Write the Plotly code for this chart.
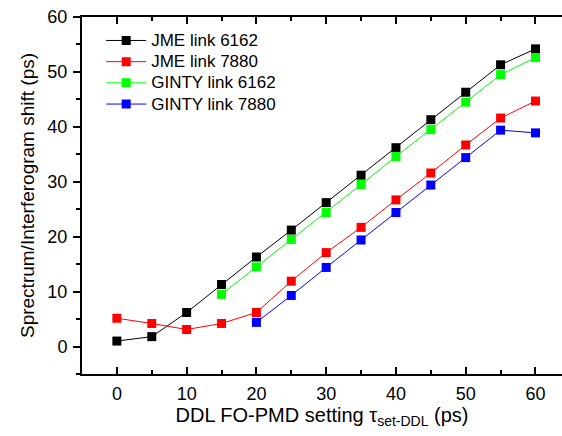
import plotly.graph_objects as go

# DDL FO-PMD setting (ps)
tau_all = [0, 5, 10, 15, 20, 25, 30, 35, 40, 45, 50, 55, 60]
tau_ginty_6162 = [15, 20, 25, 30, 35, 40, 45, 50, 55, 60]
tau_ginty_7880 = [20, 25, 30, 35, 40, 45, 50, 55, 60]

# Measured spectrum/interferogram shift (ps)
jme_6162 = [1.0, 1.8, 6.2, 11.3, 16.3, 21.2, 26.2, 31.2, 36.2, 41.3, 46.3, 51.3, 54.2]
jme_7880 = [5.15, 4.2, 3.1, 4.2, 6.2, 11.9, 17.1, 21.7, 26.7, 31.6, 36.7, 41.6, 44.7]
ginty_6162 = [9.5, 14.5, 19.5, 24.4, 29.5, 34.6, 39.5, 44.5, 49.5, 52.6]
ginty_7880 = [4.4, 9.3, 14.4, 19.4, 24.4, 29.4, 34.4, 39.4, 38.9]

series = [
    ("JME link 6162", tau_all, jme_6162, "#000000"),
    ("JME link 7880", tau_all, jme_7880, "#ff0000"),
    ("GINTY link 6162", tau_ginty_6162, ginty_6162, "#00ff00"),
    ("GINTY link 7880", tau_ginty_7880, ginty_7880, "#0000ff"),
]

FONT = "Arial, 'Liberation Sans', sans-serif"

fig = go.Figure()
for name, x, y, color in series:
    fig.add_trace(go.Scatter(
        x=x, y=y, mode="lines+markers",
        name=f'<span style="font-size:17px">{name}</span>',
        line=dict(color=color, width=1),
        marker=dict(symbol="square", size=9, color=color, line=dict(width=0)),
    ))

axis_common = dict(
    showgrid=False, zeroline=False, showline=True, linecolor="black",
    linewidth=2, ticklen=7, tickwidth=1.5, tickcolor="black",
    tickfont=dict(family=FONT, size=18, color="black"),
)

# x axis: ticks point into the plot, repeated on the top frame line
fig.update_xaxes(
    range=[-5, 63.8], tickvals=[0, 10, 20, 30, 40, 50, 60],
    ticks="inside", mirror="ticks",
    minor=dict(ticks="inside", ticklen=4, dtick=5, tick0=0, tickcolor="black", tickwidth=1.5),
    title=dict(text="DDL FO-PMD setting τ<sub>set-DDL</sub> (ps)",
               font=dict(family=FONT, size=20, color="black"), standoff=5),
    ticklabelstandoff=2,
    **axis_common,
)
# y axis: ticks point outward
fig.update_yaxes(
    range=[-5, 60], tickvals=[0, 10, 20, 30, 40, 50, 60],
    ticks="outside",
    minor=dict(ticks="outside", ticklen=4, dtick=5, tick0=0, tickcolor="black", tickwidth=1.5),
    title=dict(text="Sprectrum/Interferogram shift (ps)",
               font=dict(family=FONT, size=19, color="black"), standoff=8),
    ticklabelstandoff=2,
    **axis_common,
)

fig.update_layout(
    width=562, height=436,
    margin=dict(l=82, r=0, t=17, b=62),
    plot_bgcolor="white", paper_bgcolor="white",
    font=dict(family=FONT, size=18, color="black"),
    showlegend=True,
    legend=dict(
        x=0.04, y=0.978, xanchor="left", yanchor="top",
        bgcolor="rgba(0,0,0,0)", font=dict(family=FONT, size=14, color="black"),
        tracegroupgap=0, itemwidth=40,
    ),
)

fig.write_html("out.html")
